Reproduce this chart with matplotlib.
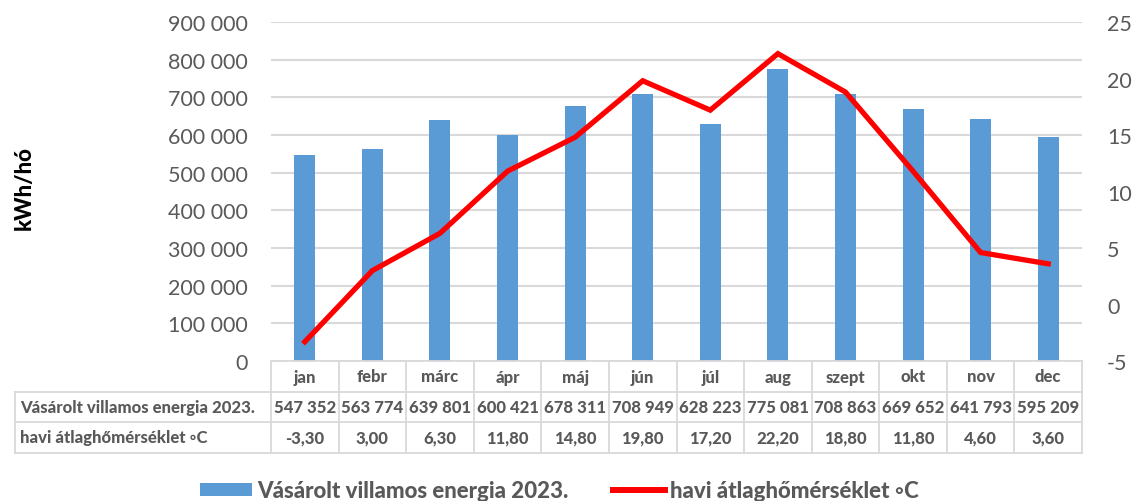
import matplotlib.pyplot as plt
import matplotlib.transforms as mtransforms
from matplotlib.lines import Line2D
from matplotlib.patches import Patch

plt.rcParams["font.family"] = ["Lato", "DejaVu Sans"]

months = ["jan", "febr", "márc", "ápr", "máj", "jún", "júl", "aug", "szept", "okt", "nov", "dec"]
energy = [547352, 563774, 639801, 600421, 678311, 708949, 628223, 775081, 708863, 669652, 641793, 595209]
temp = [-3.30, 3.00, 6.30, 11.80, 14.80, 19.80, 17.20, 22.20, 18.80, 11.80, 4.60, 3.60]

energy_label = "Vásárolt villamos energia 2023."
temp_label = "havi átlaghőmérséklet ◦C"

BAR_COLOR = "#5B9BD5"
LINE_COLOR = "#FF0000"
TEXT = "#595959"
GRID = "#D9D9D9"

W, H = 1137, 502
fig = plt.figure(figsize=(W / 100, H / 100), dpi=100)

# plot area in pixels
left, right, top, bottom = 271, 1082, 23, 362
ax = fig.add_axes([left / W, 1 - bottom / H, (right - left) / W, (bottom - top) / H])

x = list(range(len(months)))
ax.bar(x, energy, width=0.31, color=BAR_COLOR, zorder=2)
ax.set_xlim(-0.5, len(months) - 0.5)
ax.set_ylim(0, 900000)
ax.set_yticks(range(0, 900001, 100000))
ax.set_yticklabels([f"{v:,}".replace(",", " ") for v in range(0, 900001, 100000)],
                   fontsize=15.5, color=TEXT)
ax.set_xticks([])
ax.grid(axis="y", color=GRID, linewidth=1.5, zorder=0)
ax.tick_params(axis="y", length=0, pad=16.5)
for s in ax.spines.values():
    s.set_visible(False)
ax.set_ylabel("kWh/hó", fontsize=16, fontweight="black", color="black", labelpad=0)
ax.yaxis.set_label_coords((35 - left) / (right - left), (bottom - 188) / (bottom - top))

ax2 = ax.twinx()
ax2.plot(x, temp, color=LINE_COLOR, linewidth=3.8, solid_joinstyle="miter", zorder=3)
ax2.set_ylim(-5, 25)
ax2.set_yticks(range(-5, 26, 5))
ax2.set_yticklabels([str(v) for v in range(-5, 26, 5)], fontsize=15.5, color=TEXT)
ax2.tick_params(axis="y", length=0, pad=18)
for s in ax2.spines.values():
    s.set_visible(False)

# data table below the plot
tr = mtransforms.blended_transform_factory(ax.transData, ax.transAxes)
ph = bottom - top
rows_px = [362, 393, 423, 454]
ry = [(bottom - r) / ph for r in rows_px]
tbl_left = -0.5 + (15 - left) / ((right - left) / len(months))
lw = 1.3
ax.plot([-0.5, 11.5], [ry[0], ry[0]], transform=tr, color=GRID, lw=lw, clip_on=False)
for yy in ry[1:]:
    ax.plot([tbl_left, 11.5], [yy, yy], transform=tr, color=GRID, lw=lw, clip_on=False)
for i in range(len(months) + 1):
    ax.plot([i - 0.5, i - 0.5], [ry[0], ry[3]], transform=tr, color=GRID, lw=lw, clip_on=False)
ax.plot([tbl_left, tbl_left], [ry[1], ry[3]], transform=tr, color=GRID, lw=lw, clip_on=False)

cell_font = dict(fontsize=12, fontweight="black", color=TEXT, ha="center", va="center",
                 transform=tr)
for i, m in enumerate(months):
    ax.text(i, (ry[0] + ry[1]) / 2, m, **cell_font)
    ax.text(i, (ry[1] + ry[2]) / 2, f"{energy[i]:,}".replace(",", " "), **cell_font)
    ax.text(i, (ry[2] + ry[3]) / 2, f"{temp[i]:.2f}".replace(".", ","), **cell_font)
lab_font = dict(fontsize=12, fontweight="black", color=TEXT, ha="left", va="center",
                transform=tr)
ax.text(tbl_left + 0.08, (ry[1] + ry[2]) / 2, energy_label, **lab_font)
ax.text(tbl_left + 0.08, (ry[2] + ry[3]) / 2, temp_label, **lab_font)

handles = [Patch(facecolor=BAR_COLOR, edgecolor="none"),
           Line2D([0], [0], color=LINE_COLOR, linewidth=4.3)]
fig.legend(handles, [energy_label, temp_label], loc="center left",
           bbox_to_anchor=(200 / W, 1 - 492 / H), ncol=2, frameon=False, borderpad=0,
           borderaxespad=0, prop={"size": 16, "weight": "black"}, labelcolor=TEXT,
           handlelength=2.35, handletextpad=0.22, columnspacing=2.0, handleheight=0.55)

fig.savefig("out.png", dpi=100)
